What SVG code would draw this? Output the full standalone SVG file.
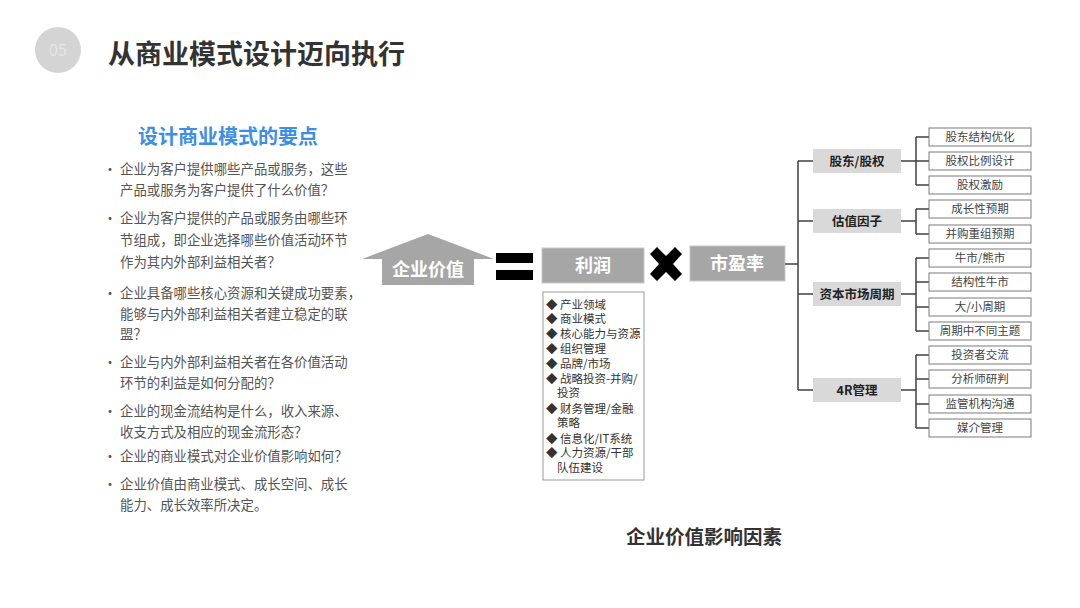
<svg xmlns="http://www.w3.org/2000/svg" width="1080" height="608" viewBox="0 0 1080 608">
<style>
text{font-family:"Noto Sans CJK SC","Liberation Sans",sans-serif}
.title{font-size:27px;font-weight:700;fill:#333}
.sub{font-size:20px;font-weight:700;fill:#3d8ee6}
.bl{font-size:13.4px;fill:#555}
.dot{font-size:14px;fill:#555}
.big{font-size:18px;font-weight:700;fill:#fff}
.li{font-size:11.5px;fill:#333}
.l2{font-size:12.5px;font-weight:700;fill:#222}
.leaf{font-size:11.5px;fill:#444}
.l2box{fill:#d9d9d9}
.leafbox{fill:#fff;stroke:#7a7a7a;stroke-width:1}
.gray{fill:#a6a6a6}
.conn{fill:none;stroke:#404040;stroke-width:1.5}
.cap{font-size:19.5px;font-weight:700;fill:#333}
</style>
<rect width="1080" height="608" fill="#fff"/>

<g id="header">
<circle cx="58" cy="50" r="23" fill="#d4d4d4"/>
<text x="58" y="56" text-anchor="middle" font-size="16" fill="#e6e6e6">05</text>
<text class="title" x="108" y="64">从商业模式设计迈向执行</text>
</g>

<g id="points">
<text class="sub" x="138" y="144">设计商业模式的要点</text>
<g class="dot">
<text x="103" y="174">•</text><text x="103" y="223">•</text><text x="103" y="298">•</text>
<text x="103" y="367">•</text><text x="103" y="416">•</text><text x="103" y="461">•</text><text x="103" y="489">•</text>
</g>
<g class="bl">
<text x="120" y="174">企业为客户提供哪些产品或服务，这些</text>
<text x="120" y="195">产品或服务为客户提供了什么价值？</text>
<text x="120" y="223">企业为客户提供的产品或服务由哪些环</text>
<text x="120" y="245">节组成，即企业选择哪些价值活动环节</text>
<text x="120" y="267">作为其内外部利益相关者？</text>
<text x="120" y="298">企业具备哪些核心资源和关键成功要素，</text>
<text x="120" y="319">能够与内外部利益相关者建立稳定的联</text>
<text x="120" y="339">盟？</text>
<text x="120" y="367">企业与内外部利益相关者在各价值活动</text>
<text x="120" y="388">环节的利益是如何分配的？</text>
<text x="120" y="416">企业的现金流结构是什么，收入来源、</text>
<text x="120" y="437">收支方式及相应的现金流形态？</text>
<text x="120" y="461">企业的商业模式对企业价值影响如何？</text>
<text x="120" y="489">企业价值由商业模式、成长空间、成长</text>
<text x="120" y="510">能力、成长效率所决定。</text>
</g>
</g>

<g id="node-value">
<path class="gray" d="M428 234 L494 259 L474 259 L474 285 L382 285 L382 259 L362 259 Z"/>
<text class="big" x="428" y="276" text-anchor="middle">企业价值</text>
</g>

<g id="equals">
<rect x="496" y="253" width="37" height="10" fill="#000"/>
<rect x="496" y="270" width="37" height="10" fill="#000"/>
</g>

<g id="node-profit">
<rect class="gray" x="542" y="248" width="102" height="35" stroke="#c8c8c8" stroke-width="1"/>
<text class="big" x="593" y="272" text-anchor="middle">利润</text>
</g>

<g id="times">
<path d="M650 254 L657 247 L666 256 L675 247 L682 254 L673 264 L682 274 L675 281 L666 272 L657 281 L650 274 L659 264 Z" fill="#000"/>
</g>

<g id="node-pe">
<rect class="gray" x="690" y="246" width="95" height="35" stroke="#c8c8c8" stroke-width="1"/>
<text class="big" x="737" y="270" text-anchor="middle">市盈率</text>
</g>

<g id="profit-list">
<rect x="543" y="292" width="101" height="188" fill="#fff" stroke="#9a9a9a" stroke-width="1"/>
<g class="li">
<text x="546" y="309">◆ 产业领域</text>
<text x="546" y="323">◆ 商业模式</text>
<text x="546" y="338">◆ 核心能力与资源</text>
<text x="546" y="353">◆ 组织管理</text>
<text x="546" y="368">◆ 品牌/市场</text>
<text x="546" y="383">◆ 战略投资-并购/</text>
<text x="557" y="397">投资</text>
<text x="546" y="413">◆ 财务管理/金融</text>
<text x="557" y="427">策略</text>
<text x="546" y="443">◆ 信息化/IT系统</text>
<text x="546" y="457">◆ 人力资源/干部</text>
<text x="557" y="472">队伍建设</text>
</g>
</g>

<g id="connectors">
<path class="conn" d="M785 264 H798 M798 161 V390 M798 161 H813 M798 221 H813 M798 294 H813 M798 390 H813"/>
<path class="conn" d="M901 161 H916 M916 137 V185 M916 137 H929 M916 161 H929 M916 185 H929"/>
<path class="conn" d="M901 221 H916 M916 209 V234 M916 209 H929 M916 234 H929"/>
<path class="conn" d="M901 294 H916 M916 258 V331 M916 258 H929 M916 282 H929 M916 307 H929 M916 331 H929"/>
<path class="conn" d="M901 390 H916 M916 355 V428 M916 355 H929 M916 379 H929 M916 404 H929 M916 428 H929"/>
</g>

<g id="node-shareholder">
<rect class="l2box" x="813" y="149" width="88" height="24"/>
<text class="l2" x="857" y="166" text-anchor="middle">股东/股权</text>
</g>
<g id="node-valuation">
<rect class="l2box" x="813" y="209" width="88" height="24"/>
<text class="l2" x="857" y="226" text-anchor="middle">估值因子</text>
</g>
<g id="node-cycle">
<rect class="l2box" x="813" y="282" width="88" height="24"/>
<text class="l2" x="857" y="299" text-anchor="middle">资本市场周期</text>
</g>
<g id="node-4r">
<rect class="l2box" x="813" y="378" width="88" height="24"/>
<text class="l2" x="857" y="395" text-anchor="middle">4R管理</text>
</g>

<g id="leaf-1"><rect class="leafbox" x="929" y="128" width="102" height="18"/><text class="leaf" x="980" y="141" text-anchor="middle">股东结构优化</text></g>
<g id="leaf-2"><rect class="leafbox" x="929" y="152" width="102" height="18"/><text class="leaf" x="980" y="165" text-anchor="middle">股权比例设计</text></g>
<g id="leaf-3"><rect class="leafbox" x="929" y="176" width="102" height="18"/><text class="leaf" x="980" y="189" text-anchor="middle">股权激励</text></g>
<g id="leaf-4"><rect class="leafbox" x="929" y="200" width="102" height="18"/><text class="leaf" x="980" y="213" text-anchor="middle">成长性预期</text></g>
<g id="leaf-5"><rect class="leafbox" x="929" y="225" width="102" height="18"/><text class="leaf" x="980" y="238" text-anchor="middle">并购重组预期</text></g>
<g id="leaf-6"><rect class="leafbox" x="929" y="249" width="102" height="18"/><text class="leaf" x="980" y="262" text-anchor="middle">牛市/熊市</text></g>
<g id="leaf-7"><rect class="leafbox" x="929" y="273" width="102" height="18"/><text class="leaf" x="980" y="286" text-anchor="middle">结构性牛市</text></g>
<g id="leaf-8"><rect class="leafbox" x="929" y="298" width="102" height="18"/><text class="leaf" x="980" y="311" text-anchor="middle">大/小周期</text></g>
<g id="leaf-9"><rect class="leafbox" x="929" y="322" width="102" height="18"/><text class="leaf" x="980" y="335" text-anchor="middle">周期中不同主题</text></g>
<g id="leaf-10"><rect class="leafbox" x="929" y="346" width="102" height="18"/><text class="leaf" x="980" y="359" text-anchor="middle">投资者交流</text></g>
<g id="leaf-11"><rect class="leafbox" x="929" y="370" width="102" height="18"/><text class="leaf" x="980" y="383" text-anchor="middle">分析师研判</text></g>
<g id="leaf-12"><rect class="leafbox" x="929" y="395" width="102" height="18"/><text class="leaf" x="980" y="408" text-anchor="middle">监管机构沟通</text></g>
<g id="leaf-13"><rect class="leafbox" x="929" y="419" width="102" height="18"/><text class="leaf" x="980" y="432" text-anchor="middle">媒介管理</text></g>

<g id="caption">
<text class="cap" x="704" y="544" text-anchor="middle">企业价值影响因素</text>
</g>
</svg>
